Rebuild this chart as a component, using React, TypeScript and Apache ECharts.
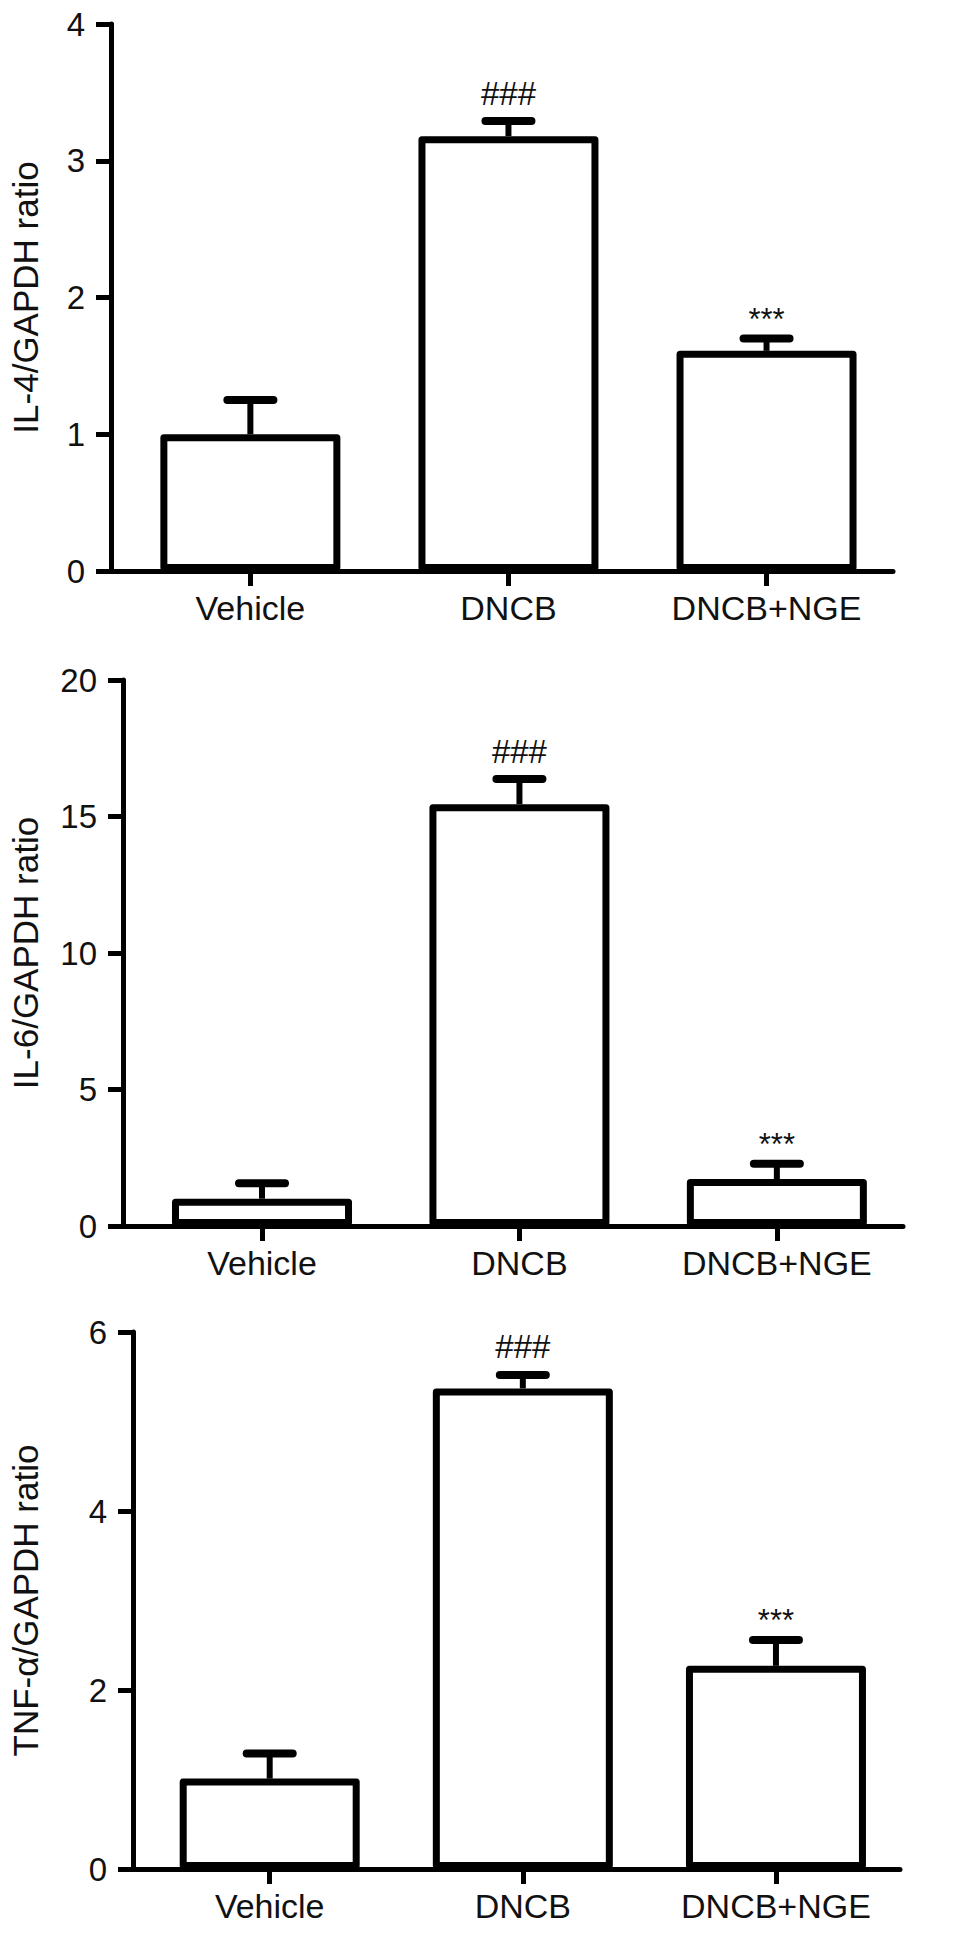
import React, { useEffect, useRef } from "react";
import * as echarts from "echarts";

const categories = ["Vehicle", "DNCB", "DNCB+NGE"];

const il4Mean = [1.0, 3.18, 1.61];
const il4Err = [0.25, 0.11, 0.09];
const il4Marks = ["", "###", "***"];
const il4Ticks = { min: 0, max: 4, interval: 1 };

const il6Mean = [1.0, 15.45, 1.72];
const il6Err = [0.57, 0.92, 0.56];
const il6Marks = ["", "###", "***"];
const il6Ticks = { min: 0, max: 20, interval: 5 };

const tnfMean = [1.01, 5.37, 2.27];
const tnfErr = [0.28, 0.15, 0.29];
const tnfMarks = ["", "###", "***"];
const tnfTicks = { min: 0, max: 6, interval: 2 };

const yTitles = ["IL-4/GAPDH ratio", "IL-6/GAPDH ratio", "TNF-α/GAPDH ratio"];

const FONT = "'Liberation Sans', Arial, Helvetica, sans-serif";

const panels = [
  { mean: il4Mean, err: il4Err, marks: il4Marks, ticks: il4Ticks, title: yTitles[0] },
  { mean: il6Mean, err: il6Err, marks: il6Marks, ticks: il6Ticks, title: yTitles[1] },
  { mean: tnfMean, err: tnfErr, marks: tnfMarks, ticks: tnfTicks, title: yTitles[2] },
];

// layout (pixels)
const grids = [
  { left: 110, top: 24, width: 783, height: 547, nameGap: 68 },
  { left: 123, top: 680, width: 780, height: 546, nameGap: 80 },
  { left: 133, top: 1332, width: 767, height: 537, nameGap: 90 },
];
const markStyle: Record<string, { offset: number; size: number }> = {
  "###": { offset: 28, size: 33 },
  "***": { offset: 19, size: 31 },
};

export default function App() {
  const ref = useRef<HTMLDivElement>(null);
  useEffect(() => {
    document.body.style.margin = "0";
    if (!ref.current) return;
    const chart = echarts.init(ref.current, null, { renderer: "svg" });

    const xAxes: any[] = [];
    const yAxes: any[] = [];
    const series: any[] = [];

    panels.forEach((p, i) => {
      xAxes.push({
        type: "value",
        gridIndex: i,
        min: -0.54,
        max: 2.49,
        axisLine: { show: true, onZero: false, lineStyle: { color: "#000", width: 5 } },
        axisTick: {
          show: true,
          customValues: [0, 1, 2],
          length: 15,
          lineStyle: { color: "#000", width: 5 },
        },
        axisLabel: {
          customValues: [0, 1, 2],
          formatter: (v: number) => categories[Math.round(v)] ?? "",
          fontSize: 34,
          color: "#111",
          margin: 20,
          fontFamily: FONT,
        },
        splitLine: { show: false },
      });
      yAxes.push({
        type: "value",
        gridIndex: i,
        min: p.ticks.min,
        max: p.ticks.max,
        interval: p.ticks.interval,
        axisLine: { show: true, onZero: false, lineStyle: { color: "#000", width: 5 } },
        axisTick: { show: true, length: 15, lineStyle: { color: "#000", width: 5 } },
        axisLabel: { fontSize: 33, color: "#111", margin: 26, fontFamily: FONT },
        splitLine: { show: false },
        name: p.title,
        nameLocation: "middle",
        nameGap: grids[i].nameGap,
        nameTextStyle: { fontSize: 35, color: "#111", fontFamily: FONT },
      });
      series.push({
        type: "bar",
        xAxisIndex: i,
        yAxisIndex: i,
        barWidth: 180,
        data: p.mean.map((m, j) => [j, m]),
        itemStyle: { color: "#fff", borderColor: "#000", borderWidth: 7, borderJoin: "round" },
        z: 2,
      });
      const marks = p.marks;
      series.push({
        type: "custom",
        xAxisIndex: i,
        yAxisIndex: i,
        data: p.mean.map((m, j) => [j, m, p.err[j]]),
        z: 3,
        renderItem: (params: any, api: any) => {
          const x = api.value(0);
          const m = api.value(1);
          const e = api.value(2);
          const top = api.coord([x, m]);
          const cap = api.coord([x, m + e]);
          const mark = marks[params.dataIndex];
          const children: any[] = [
            {
              type: "line",
              shape: { x1: top[0], y1: top[1], x2: cap[0], y2: cap[1] },
              style: { stroke: "#000", lineWidth: 6 },
            },
            {
              type: "line",
              shape: { x1: cap[0] - 23, y1: cap[1], x2: cap[0] + 23, y2: cap[1] },
              style: { stroke: "#000", lineWidth: 8, lineCap: "round" },
            },
          ];
          if (mark) {
            const ms = markStyle[mark] ?? { offset: 24, size: 30 };
            children.push({
              type: "text",
              x: cap[0],
              y: cap[1] - ms.offset,
              style: {
                text: mark,
                fontSize: ms.size,
                fontFamily: FONT,
                fill: "#111",
                align: "center",
                verticalAlign: "middle",
              },
            });
          }
          return { type: "group", children };
        },
      });
    });

    chart.setOption({
      animation: false,
      backgroundColor: "#fff",
      textStyle: { fontFamily: FONT },
      grid: grids.map((g) => ({ left: g.left, top: g.top, width: g.width, height: g.height })),
      xAxis: xAxes,
      yAxis: yAxes,
      series,
    });
    return () => chart.dispose();
  }, []);
  return <div ref={ref} style={{ width: 969, height: 1945 }} />;
}
